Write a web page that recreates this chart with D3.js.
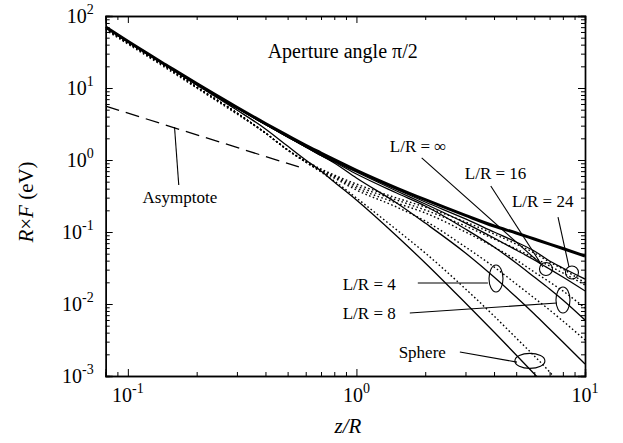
<!DOCTYPE html>
<html>
<head>
<meta charset="utf-8">
<script src="https://cdn.jsdelivr.net/npm/d3@7"></script>
<style>
  body { margin: 0; background: #fff; }
  text { font-family: "Liberation Serif", "Times New Roman", serif; fill: #000; }
</style>
</head>
<body>
<div id="chart"></div>
<script>
// z/R grid shared by all curves
const zR = [0.08, 0.1, 0.15, 0.2, 0.3, 0.4, 0.5, 0.6, 0.7, 0.8, 1, 1.5, 2, 3, 4, 5, 6, 7, 8, 10];

// R x F (eV), solid curves
const infSolid = [70.3, 44.5, 20.1, 11.5, 5.40, 3.21, 2.18, 1.60, 1.25, 1.01, 0.719, 0.408, 0.281, 0.170, 0.121, 0.0969, 0.080, 0.068, 0.059, 0.0464];
const lr24Solid = [70.3, 44.5, 20.1, 11.5, 5.36, 3.16, 2.15, 1.56, 1.21, 0.984, 0.704, 0.389, 0.261, 0.152, 0.100, 0.0726, 0.0545, 0.0396, 0.0316, 0.0222];
const lr16Solid = [69.2, 44.2, 19.9, 11.4, 5.27, 3.11, 2.09, 1.52, 1.17, 0.953, 0.681, 0.371, 0.245, 0.133, 0.0825, 0.0562, 0.0409, 0.0306, 0.0237, 0.0152];
const lr8Solid = [69.2, 44.2, 19.9, 11.4, 5.27, 3.11, 2.09, 1.52, 1.155, 0.938, 0.639, 0.348, 0.230, 0.110, 0.0619, 0.0371, 0.0237, 0.0162, 0.0114, 0.0060];
const lr4Solid = [69.2, 44.2, 19.9, 11.4, 5.27, 3.11, 2.09, 1.52, 1.155, 0.908, 0.562, 0.253, 0.133, 0.0511, 0.0237, 0.0125, 0.00726, 0.0045, 0.00297, 0.00147];
const sphereSolid = [68.1, 43.5, 19.6, 11.0, 4.95, 2.70, 1.56, 1.00, 0.704, 0.495, 0.278, 0.088, 0.0371, 0.0103, 0.00408, 0.00196, 0.00107, 0.00064];

// R x F (eV), dotted curves
const lr24Dot = [65.9, 42.2, 18.9, 10.3, 4.50, 2.37, 1.38, 0.969, 0.750, 0.619, 0.464, 0.297, 0.222, 0.138, 0.0938, 0.068, 0.0511, 0.0383, 0.0306, 0.0196];
const lr16Dot = [65.9, 42.2, 18.9, 10.3, 4.50, 2.37, 1.38, 0.953, 0.727, 0.599, 0.435, 0.278, 0.202, 0.121, 0.080, 0.0581, 0.0435, 0.0337, 0.0270, 0.0184];
const lr8Dot = [65.9, 42.2, 18.9, 10.3, 4.50, 2.37, 1.38, 0.938, 0.704, 0.581, 0.408, 0.253, 0.184, 0.100, 0.0619, 0.0409, 0.0278, 0.0202, 0.0152, 0.0088];
const lr4Dot = [65.9, 42.2, 18.9, 10.3, 4.50, 2.37, 1.38, 0.938, 0.704, 0.562, 0.383, 0.222, 0.142, 0.0619, 0.0327, 0.0190, 0.0121, 0.00825, 0.00581, 0.00316];
const sphereDot = [63.9, 40.8, 18.1, 10.0, 4.35, 2.37, 1.38, 0.938, 0.681, 0.511, 0.297, 0.107, 0.0511, 0.0162, 0.00681, 0.00337, 0.0019, 0.00114, 0.00068];

// asymptote
const asymZ = [0.08, 0.56];
const asymF = [5.6, 0.8];

// tick labels (powers of ten)
const xTickExp = [-1, 0, 1];
const yTickExp = [2, 1, 0, -1, -2, -3];

const W = 623, H = 443;
const margin = { top: 16, right: 38, bottom: 67, left: 105.7 };
const width = W - margin.left - margin.right;
const height = H - margin.top - margin.bottom;

const svg = d3.select("#chart").append("svg")
  .attr("width", W)
  .attr("height", H);

const x = d3.scaleLog().domain([0.08, 10]).range([margin.left, margin.left + width]);
const y = d3.scaleLog().domain([1e-3, 1e2]).range([margin.top + height, margin.top]);

svg.append("clipPath").attr("id", "plot")
  .append("rect")
  .attr("x", margin.left).attr("y", margin.top)
  .attr("width", width).attr("height", height);

// minor / major tick values
function minors(lo, hi) {
  const out = [];
  for (let d = -4; d <= 3; d++) {
    for (let k = 2; k <= 9; k++) {
      const v = k * Math.pow(10, d);
      if (v >= lo * 0.999 && v <= hi * 1.001) out.push(v);
    }
  }
  return out;
}
const xMajor = xTickExp.map(e => Math.pow(10, e));
const yMajor = yTickExp.map(e => Math.pow(10, e));
const xMinor = minors(0.08, 10);
const yMinor = minors(1e-3, 1e2);

function drawAxis(axis, tx, ty) {
  const g = svg.append("g").attr("transform", `translate(${tx},${ty})`).call(axis);
  g.selectAll("line").attr("stroke", "#000").attr("stroke-width", 1);
  g.select(".domain").attr("stroke", "#000").attr("stroke-width", 1.4);
  return g;
}

const bottom = margin.top + height, right = margin.left + width;
drawAxis(d3.axisBottom(x).tickValues(xMinor).tickSize(-4).tickFormat(""), 0, bottom);
drawAxis(d3.axisBottom(x).tickValues(xMajor).tickSize(-7).tickFormat(""), 0, bottom);
drawAxis(d3.axisTop(x).tickValues(xMinor).tickSize(-4).tickFormat(""), 0, margin.top);
drawAxis(d3.axisTop(x).tickValues(xMajor).tickSize(-7).tickFormat(""), 0, margin.top);
drawAxis(d3.axisLeft(y).tickValues(yMinor).tickSize(-4).tickFormat(""), margin.left, 0);
drawAxis(d3.axisLeft(y).tickValues(yMajor).tickSize(-7).tickFormat(""), margin.left, 0);
drawAxis(d3.axisRight(y).tickValues(yMinor).tickSize(-4).tickFormat(""), right, 0);
drawAxis(d3.axisRight(y).tickValues(yMajor).tickSize(-7).tickFormat(""), right, 0);

// tick labels with superscripts
function powLabel(sel, e) {
  sel.append("tspan").text("10");
  sel.append("tspan").attr("dy", -9).attr("font-size", 14).text(String(e));
}
xTickExp.forEach(e => {
  const t = svg.append("text")
    .attr("x", x(Math.pow(10, e)))
    .attr("y", bottom + 26)
    .attr("text-anchor", "middle")
    .attr("font-size", 20);
  powLabel(t, e);
});
yTickExp.forEach(e => {
  const t = svg.append("text")
    .attr("x", margin.left - 12)
    .attr("y", y(Math.pow(10, e)) + 7)
    .attr("text-anchor", "end")
    .attr("font-size", 20);
  powLabel(t, e);
});

// axis titles
svg.append("text")
  .attr("x", 348).attr("y", 433)
  .attr("text-anchor", "middle")
  .attr("font-size", 21)
  .attr("font-style", "italic")
  .text("z/R");

const yt = svg.append("text")
  .attr("transform", `translate(33,${margin.top + height / 2 + 6}) rotate(-90)`)
  .attr("text-anchor", "middle")
  .attr("font-size", 21);
yt.append("tspan").attr("font-style", "italic").text("R");
yt.append("tspan").text("\u00d7");
yt.append("tspan").attr("font-style", "italic").text("F");
yt.append("tspan").text(" (eV)");

// curves
const series = [
  { values: sphereDot, dash: "1.6,2.4", w: 1.4 },
  { values: lr4Dot, dash: "1.6,2.4", w: 1.4 },
  { values: lr8Dot, dash: "1.6,2.4", w: 1.4 },
  { values: lr16Dot, dash: "1.6,2.4", w: 1.4 },
  { values: lr24Dot, dash: "1.6,2.4", w: 1.4 },
  { values: sphereSolid, dash: null, w: 1.3 },
  { values: lr4Solid, dash: null, w: 1.3 },
  { values: lr8Solid, dash: null, w: 1.3 },
  { values: lr16Solid, dash: null, w: 1.3 },
  { values: lr24Solid, dash: null, w: 1.3 },
  { values: infSolid, dash: null, w: 3 }
];

const line = d3.line()
  .x(d => x(d[0]))
  .y(d => y(d[1]))
  .curve(d3.curveMonotoneX);

const plot = svg.append("g").attr("clip-path", "url(#plot)");
series.forEach(s => {
  plot.append("path")
    .datum(s.values.map((v, i) => [zR[i], v]))
    .attr("fill", "none")
    .attr("stroke", "#000")
    .attr("stroke-width", s.w)
    .attr("stroke-dasharray", s.dash)
    .attr("d", line);
});

plot.append("path")
  .datum(asymZ.map((z, i) => [z, asymF[i]]))
  .attr("fill", "none")
  .attr("stroke", "#000")
  .attr("stroke-width", 1.3)
  .attr("stroke-dasharray", "14,7")
  .attr("d", d3.line().x(d => x(d[0])).y(d => y(d[1])));

// annotations (positions in data units)
const labels = [
  { t: "Aperture angle \u03c0/2", z: 0.409, f: 26.1, size: 20 },
  { t: "L/R = \u221e", z: 1.40, f: 1.29, size: 17 },
  { t: "L/R = 16", z: 2.98, f: 0.545, size: 17 },
  { t: "L/R = 24", z: 4.79, f: 0.222, size: 17 },
  { t: "L/R = 4", z: 0.871, f: 0.0156, size: 17 },
  { t: "L/R = 8", z: 0.871, f: 0.0062, size: 17 },
  { t: "Sphere", z: 1.53, f: 0.00178, size: 17 },
  { t: "Asymptote", z: 0.116, f: 0.253, size: 17 }
];
labels.forEach(l => {
  svg.append("text")
    .attr("x", x(l.z)).attr("y", y(l.f))
    .attr("font-size", l.size)
    .text(l.t);
});

const leaders = [
  [[0.160, 2.87], [0.167, 0.45]],
  [[1.93, 1.07], [6.42, 0.0359]],
  [[3.87, 0.435], [6.55, 0.0327]],
  [[7.62, 0.161], [8.51, 0.0327]],
  [[1.856, 0.0196], [3.76, 0.0196]],
  [[1.712, 0.0075], [7.54, 0.0103]],
  [[2.835, 0.00215], [5.04, 0.00156]]
];
leaders.forEach(p => {
  svg.append("line")
    .attr("x1", x(p[0][0])).attr("y1", y(p[0][1]))
    .attr("x2", x(p[1][0])).attr("y2", y(p[1][1]))
    .attr("stroke", "#000").attr("stroke-width", 1.1);
});

const rings = [
  { z: 6.75, f: 0.0306, rx: 6.5, ry: 6.5 },
  { z: 8.77, f: 0.0274, rx: 6.5, ry: 6.5 },
  { z: 4.08, f: 0.0226, rx: 7, ry: 13.5 },
  { z: 8.01, f: 0.01136, rx: 7, ry: 13 },
  { z: 5.74, f: 0.00162, rx: 15, ry: 7.5 }
];
rings.forEach(r => {
  svg.append("ellipse")
    .attr("cx", x(r.z)).attr("cy", y(r.f))
    .attr("rx", r.rx).attr("ry", r.ry)
    .attr("fill", "none")
    .attr("stroke", "#000").attr("stroke-width", 1.1);
});
</script>
</body>
</html>
